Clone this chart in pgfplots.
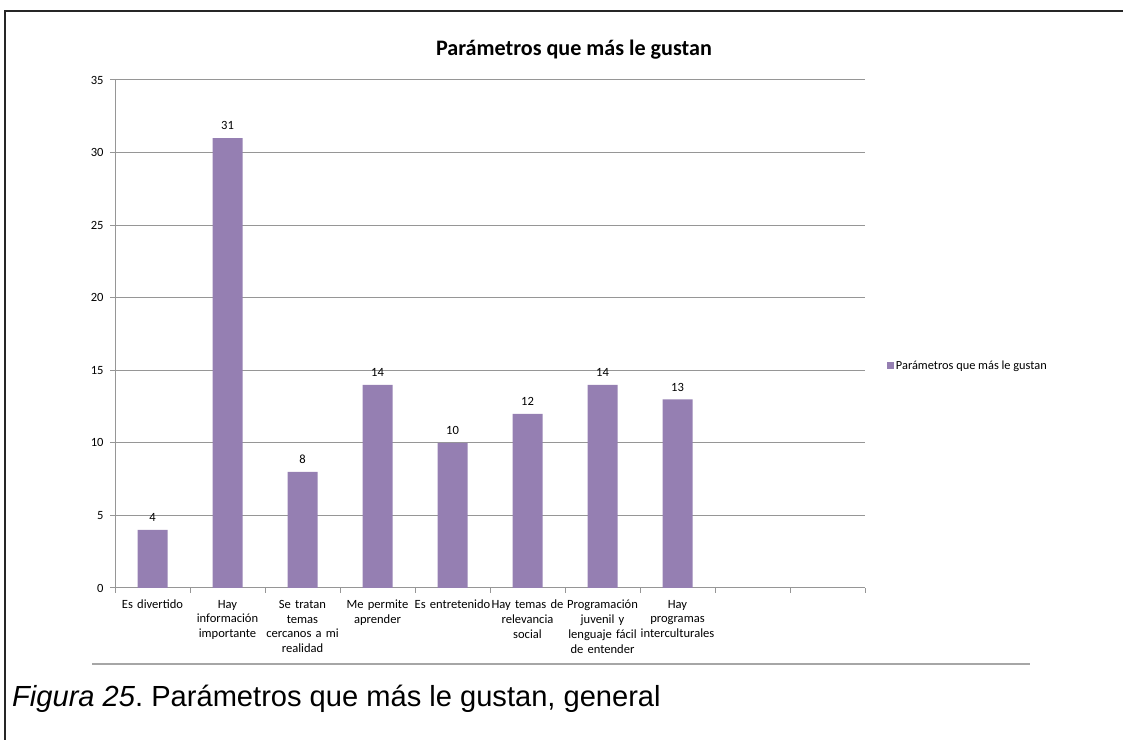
\documentclass[border=0pt]{standalone}
\usepackage{fontspec}
\setmainfont{Carlito}
\newfontfamily\capfont{Liberation Sans}
\usepackage{pgfplots}
\pgfplotsset{compat=1.18}
\frenchspacing

\definecolor{barpurple}{RGB}{149,127,178}
\definecolor{gridgray}{RGB}{150,150,150}

\begin{document}
\begin{tikzpicture}[x=1bp,y=1bp]
\path[use as bounding box] (0,0) rectangle (1123,740);
\coordinate (axisorigin) at (115,152);
% frame and caption
\draw[line width=1.6bp, black!85] (5,0) -- (5,729) -- (1123,729);
\draw[line width=1.6bp, black!35] (92,76) -- (1030,76);
\node[anchor=base west, inner sep=0, font=\capfont\fontsize{29.2}{32}\selectfont]
  at (12,33) {\textit{Figura 25}\/. Parámetros que más le gustan, general};
\node[anchor=base, inner sep=0, font=\bfseries\fontsize{22.2}{24}\selectfont]
  at (574,684) {Parámetros que más le gustan};

\begin{axis}[
  at={(axisorigin)}, anchor=south west,
  scale only axis, width=750bp, height=508bp,
  ybar, bar width=30bp,
  xmin=-0.5, xmax=9.5, ymin=0, ymax=35,
  ytick={0,5,...,35},
  xtick={0,...,7},
  xticklabels={Es divertido, {Hay\\información\\importante}, {Se tratan\\temas\\cercanos a mi\\realidad},
    {Me permite\\aprender}, Es entretenido, {Hay temas de\\relevancia\\social},
    {Programación\\juvenil y\\lenguaje fácil\\de entender}, {Hay\\programas\\interculturales}},
  minor xtick={-0.5,0.5,...,9.5},
  major x tick style={draw=none},
  tick align=outside, major tick length=5bp, minor tick length=5bp,
  tick style={gridgray, line width=1bp},
  axis x line*=bottom, axis y line*=left,
  axis line style={gridgray, line width=1bp, -},
  ymajorgrids, grid style={gridgray, line width=1bp},
  /pgf/number format/assume math mode=true,
  tick label style={font=\fontsize{12.6}{14.8}\selectfont},
  x tick label style={align=center, text width=80bp, inner sep=0pt, yshift=-7bp},
  y tick label style={xshift=-3bp},
  legend style={at={(1.029,0.437)}, anchor=west, draw=none, fill=none,
    font=\fontsize{12.4}{14}\selectfont, inner sep=0pt},
  legend image code/.code={\fill[barpurple] (0bp,-3.5bp) rectangle (7bp,3.5bp);},
]
\addplot[fill=barpurple, draw=none,
  nodes near coords,
  nodes near coords style={font=\fontsize{12.6}{14}\selectfont, black, inner sep=2bp, yshift=6bp}]
  coordinates {(0,4) (1,31) (2,8) (3,14) (4,10) (5,12) (6,14) (7,13)};
\addlegendentry{Parámetros que más le gustan}
\end{axis}
\end{tikzpicture}
\end{document}
